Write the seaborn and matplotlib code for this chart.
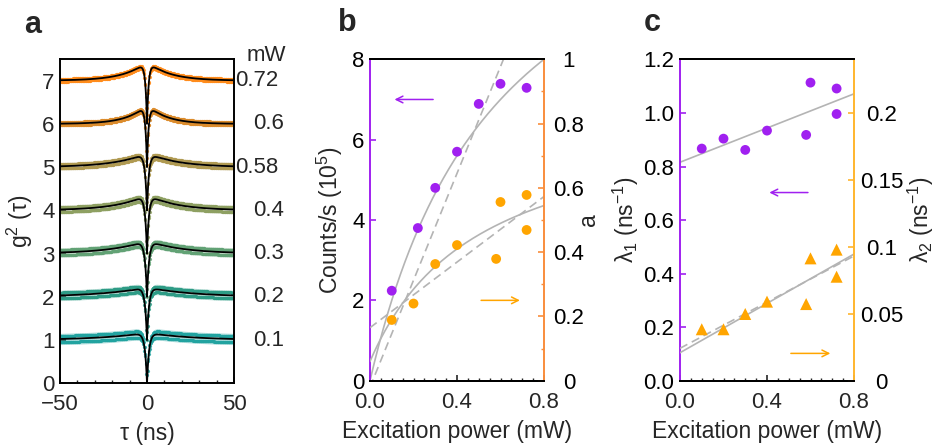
import numpy as np
import matplotlib
matplotlib.use("Agg")
import matplotlib.pyplot as plt
from matplotlib.ticker import MultipleLocator
import seaborn as sns

# ---------------- data ----------------
# panel a: g2 traces (powers, colours, fit parameters, noise spread)
trace_powers = ["0.1", "0.2", "0.3", "0.4", "0.58", "0.6", "0.72"]
trace_colors = ["#22a3a0", "#2e9c86", "#62a275", "#8ea062", "#b09a52", "#dc8c2c", "#ff8c1c"]
trace_a = [0.17, 0.22, 0.30, 0.36, 0.33, 0.45, 0.44]
trace_l1 = [0.867, 0.904, 0.862, 0.934, 0.918, 1.113, 1.091]
trace_l2 = [0.0386, 0.0386, 0.05, 0.0592, 0.0574, 0.0915, 0.0778]
trace_spread = [0.13, 0.12, 0.11, 0.10, 0.09, 0.07, 0.06]

# panel b
counts_p = [0.1, 0.22, 0.3, 0.4, 0.5, 0.6, 0.72]
counts_v = [2.24, 3.80, 4.80, 5.70, 6.89, 7.39, 7.29]
a_p = [0.1, 0.2, 0.3, 0.4, 0.58, 0.6, 0.72, 0.72]
a_v = [0.189, 0.24, 0.363, 0.422, 0.379, 0.556, 0.578, 0.469]
# fit parameters panel b
counts_sat = (14.0, 0.6)          # Imax, Psat
counts_lin = (-0.16, 13.3)        # intercept, slope
a_sat = (0.06, 0.79, 0.503)       # offset, amplitude, Psat
a_lin = (0.165, 0.51)             # intercept, slope

# panel c
l1_p = [0.1, 0.2, 0.3, 0.4, 0.58, 0.6, 0.72, 0.72]
l1_v = [0.867, 0.904, 0.862, 0.934, 0.918, 1.113, 1.091, 0.996]
l2_p = [0.1, 0.2, 0.3, 0.4, 0.58, 0.6, 0.72, 0.72]
l2_v = [0.0386, 0.0386, 0.05, 0.0592, 0.0574, 0.0915, 0.098, 0.0778]
l1_fit = (0.816, 0.319)
l2_fit = (0.0211, 0.092)
l2_fit_dash = (0.0244, 0.0861)

PURPLE = "#a020f0"
ORANGE = "#ffa500"
ORANGE_SPINE_B = "#f98d3c"
ORANGE_SPINE_C = "#ffb52e"
GRAY = "#b4b4b4"

# ---------------- style ----------------
sns.set_theme(style="ticks")
plt.rcParams["font.family"] = ["Liberation Sans", "DejaVu Sans"]
plt.rcParams["mathtext.default"] = "regular"
plt.rcParams["xtick.direction"] = "in"
plt.rcParams["ytick.direction"] = "in"
TICK = 16
LAB = 16.5

fig = plt.figure(figsize=(9.35, 4.47), dpi=100)
W = 174 / 935
axa = fig.add_axes([60 / 935, (447 - 383.3) / 447, W, 324.3 / 447])
axb = fig.add_axes([370 / 935, (447 - 380.7) / 447, W, 321.4 / 447])
axc = fig.add_axes([680 / 935, (447 - 381) / 447, W, 321.7 / 447])

def style_ax(ax):
    for s in ax.spines.values():
        s.set_linewidth(1.4)
        s.set_color("black")
    ax.tick_params(axis="both", which="major", length=4, width=1.2, labelsize=TICK)
    ax.tick_params(axis="both", which="minor", length=2.5, width=1.0)
    ax.tick_params(axis="x", which="major", pad=8)
    ax.tick_params(axis="y", which="major", pad=4)

# ---------------- panel a ----------------
tau = np.linspace(-50, 50, 1601)
for i, (a, l1, l2, col, sp) in enumerate(zip(trace_a, trace_l1, trace_l2, trace_colors, trace_spread)):
    g = 1 - (1 + a) * np.exp(-l1 * np.abs(tau)) + a * np.exp(-l2 * np.abs(tau)) + i
    axa.fill_between(tau, g - sp, g + sp, color=col, alpha=0.4, lw=0)
    sns.lineplot(x=tau[::6], y=g[::6] + sp * 0.55, ax=axa, color=col, lw=0, marker="o",
                 markersize=2.3, markeredgewidth=0, alpha=0.85)
    sns.lineplot(x=tau[3::6], y=g[3::6] - sp * 0.55, ax=axa, color=col, lw=0, marker="o",
                 markersize=2.3, markeredgewidth=0, alpha=0.85)
    sns.lineplot(x=tau, y=g, ax=axa, color="black", lw=1.3)
    xl = 1.006 if len(trace_powers[i]) > 3 else 1.109
    axa.text(xl, i + 1, trace_powers[i], transform=axa.get_yaxis_transform(),
             ha="left", va="center", fontsize=TICK)
axa.text(1.184, 7.57, "mW", transform=axa.get_yaxis_transform(), ha="center",
         va="center", fontsize=TICK, clip_on=False)
axa.set_xlim(-50, 50)
axa.set_ylim(0, 7.5)
axa.set_xticks([-50, 0, 50])
axa.set_xticklabels(["\u221250", "0", "50"])
axa.xaxis.set_minor_locator(MultipleLocator(10))
axa.set_yticks(range(0, 8))
axa.set_xlabel("\u03c4 (ns)", fontsize=LAB, labelpad=5)
axa.set_ylabel("g$^2$ (\u03c4)", fontsize=LAB, labelpad=5)
style_ax(axa)

# ---------------- panel b ----------------
style_ax(axb)
axb2 = axb.twinx()
axb2.set_position(axb.get_position())
style_ax(axb2)
P = np.linspace(0, 0.8, 200)
sns.lineplot(x=P, y=counts_sat[0] * P / (P + counts_sat[1]), ax=axb, color=GRAY, lw=1.2)
sns.lineplot(x=P, y=counts_lin[0] + counts_lin[1] * P, ax=axb, color=GRAY, lw=1.2, linestyle=(0, (5, 3)))
sns.scatterplot(x=counts_p, y=counts_v, ax=axb, color=PURPLE, s=50, edgecolor="none", zorder=5)
sns.lineplot(x=P, y=a_sat[0] + a_sat[1] * P / (P + a_sat[2]), ax=axb2, color=GRAY, lw=1.2)
sns.lineplot(x=P, y=a_lin[0] + a_lin[1] * P, ax=axb2, color=GRAY, lw=1.2, linestyle=(0, (5, 3)))
sns.scatterplot(x=a_p, y=a_v, ax=axb2, color=ORANGE, s=50, edgecolor="none", zorder=5)
axb.set_xlim(0, 0.8)
axb.set_ylim(0, 8)
axb2.set_ylim(0, 1)
axb.set_xticks([0, 0.4, 0.8])
axb.set_xticklabels(["0.0", "0.4", "0.8"])
axb.xaxis.set_minor_locator(MultipleLocator(0.05))
axb.set_yticks([0, 2, 4, 6, 8])
axb2.set_yticks([0, 0.2, 0.4, 0.6, 0.8, 1.0])
axb2.set_yticklabels(["0", "0.2", "0.4", "0.6", "0.8", "1"])
axb2.yaxis.set_minor_locator(MultipleLocator(0.1))
axb.spines["left"].set_color(PURPLE)
axb2.spines["left"].set_visible(False)
axb.spines["right"].set_visible(False)
axb2.spines["right"].set_color(ORANGE_SPINE_B)
axb.tick_params(axis="y", colors=PURPLE, labelcolor="black")
axb2.tick_params(axis="y", which="both", colors=ORANGE_SPINE_B, labelcolor="black")
axb2.tick_params(axis="y", which="major", pad=18)
for lab in axb2.get_yticklabels():
    lab.set_horizontalalignment("center")
axb.set_xlabel("Excitation power (mW)", fontsize=LAB, labelpad=5)
axb.set_ylabel("Counts/s (10$^5$)", fontsize=LAB, labelpad=5)
axb2.set_ylabel("a", fontsize=LAB)
axb2.yaxis.set_label_coords(1.19, 0.5)
axb.annotate("", xy=(0.1, 7.0), xytext=(0.303, 7.0),
             arrowprops=dict(arrowstyle="->", color=PURPLE, lw=1.1))
axb.annotate("", xy=(0.702, 2.0), xytext=(0.498, 2.0),
             arrowprops=dict(arrowstyle="->", color=ORANGE, lw=1.1))

# ---------------- panel c ----------------
style_ax(axc)
axc2 = axc.twinx()
axc2.set_position(axc.get_position())
style_ax(axc2)
sns.lineplot(x=P, y=l1_fit[0] + l1_fit[1] * P, ax=axc, color=GRAY, lw=1.2)
sns.scatterplot(x=l1_p, y=l1_v, ax=axc, color=PURPLE, s=50, edgecolor="none", zorder=5)
sns.lineplot(x=P, y=l2_fit_dash[0] + l2_fit_dash[1] * P, ax=axc2, color=GRAY, lw=1.2, linestyle=(0, (5, 3)))
sns.lineplot(x=P, y=l2_fit[0] + l2_fit[1] * P, ax=axc2, color=GRAY, lw=1.2)
sns.scatterplot(x=l2_p, y=l2_v, ax=axc2, color=ORANGE, s=75, marker="^", edgecolor="none", zorder=5)
axc.set_xlim(0, 0.8)
axc.set_ylim(0, 1.2)
axc2.set_ylim(0, 0.24)
axc.set_xticks([0, 0.4, 0.8])
axc.set_xticklabels(["0.0", "0.4", "0.8"])
axc.xaxis.set_minor_locator(MultipleLocator(0.05))
axc.set_yticks([0, 0.2, 0.4, 0.6, 0.8, 1.0, 1.2])
axc.set_yticklabels(["0.0", "0.2", "0.4", "0.6", "0.8", "1.0", "1.2"])
axc2.set_yticks([0, 0.05, 0.1, 0.15, 0.2])
axc2.set_yticklabels(["0", "0.05", "0.1", "0.15", "0.2"])
axc.spines["left"].set_color(PURPLE)
axc2.spines["left"].set_visible(False)
axc.spines["right"].set_visible(False)
axc2.spines["right"].set_color(ORANGE_SPINE_C)
axc.tick_params(axis="y", colors=PURPLE, labelcolor="black")
axc2.tick_params(axis="y", which="both", colors=ORANGE_SPINE_C, labelcolor="black")
axc2.tick_params(axis="y", which="major", pad=20)
for lab in axc2.get_yticklabels():
    lab.set_horizontalalignment("center")
axc.set_xlabel("Excitation power (mW)", fontsize=LAB, labelpad=5)
axc.set_ylabel("\u03bb$_1$ (ns$^{-1}$)", fontsize=LAB, labelpad=2)
axc2.set_ylabel("\u03bb$_2$ (ns$^{-1}$)", fontsize=LAB)
axc2.yaxis.set_label_coords(1.30, 0.5)
axc.annotate("", xy=(0.398, 0.703), xytext=(0.601, 0.703),
             arrowprops=dict(arrowstyle="->", color=PURPLE, lw=1.1))
axc.annotate("", xy=(0.704, 0.103), xytext=(0.497, 0.103),
             arrowprops=dict(arrowstyle="->", color=ORANGE, lw=1.1))

for ax in (axa, axb, axb2, axc, axc2):
    if ax.get_legend() is not None:
        ax.get_legend().remove()

# panel letters
fig.text(33 / 935, 1 - 25 / 447, "a", fontsize=22, fontweight="bold", ha="center", va="center")
fig.text(347 / 935, 1 - 23 / 447, "b", fontsize=22, fontweight="bold", ha="center", va="center")
fig.text(652 / 935, 1 - 23 / 447, "c", fontsize=22, fontweight="bold", ha="center", va="center")

fig.savefig("out.png", dpi=100)
